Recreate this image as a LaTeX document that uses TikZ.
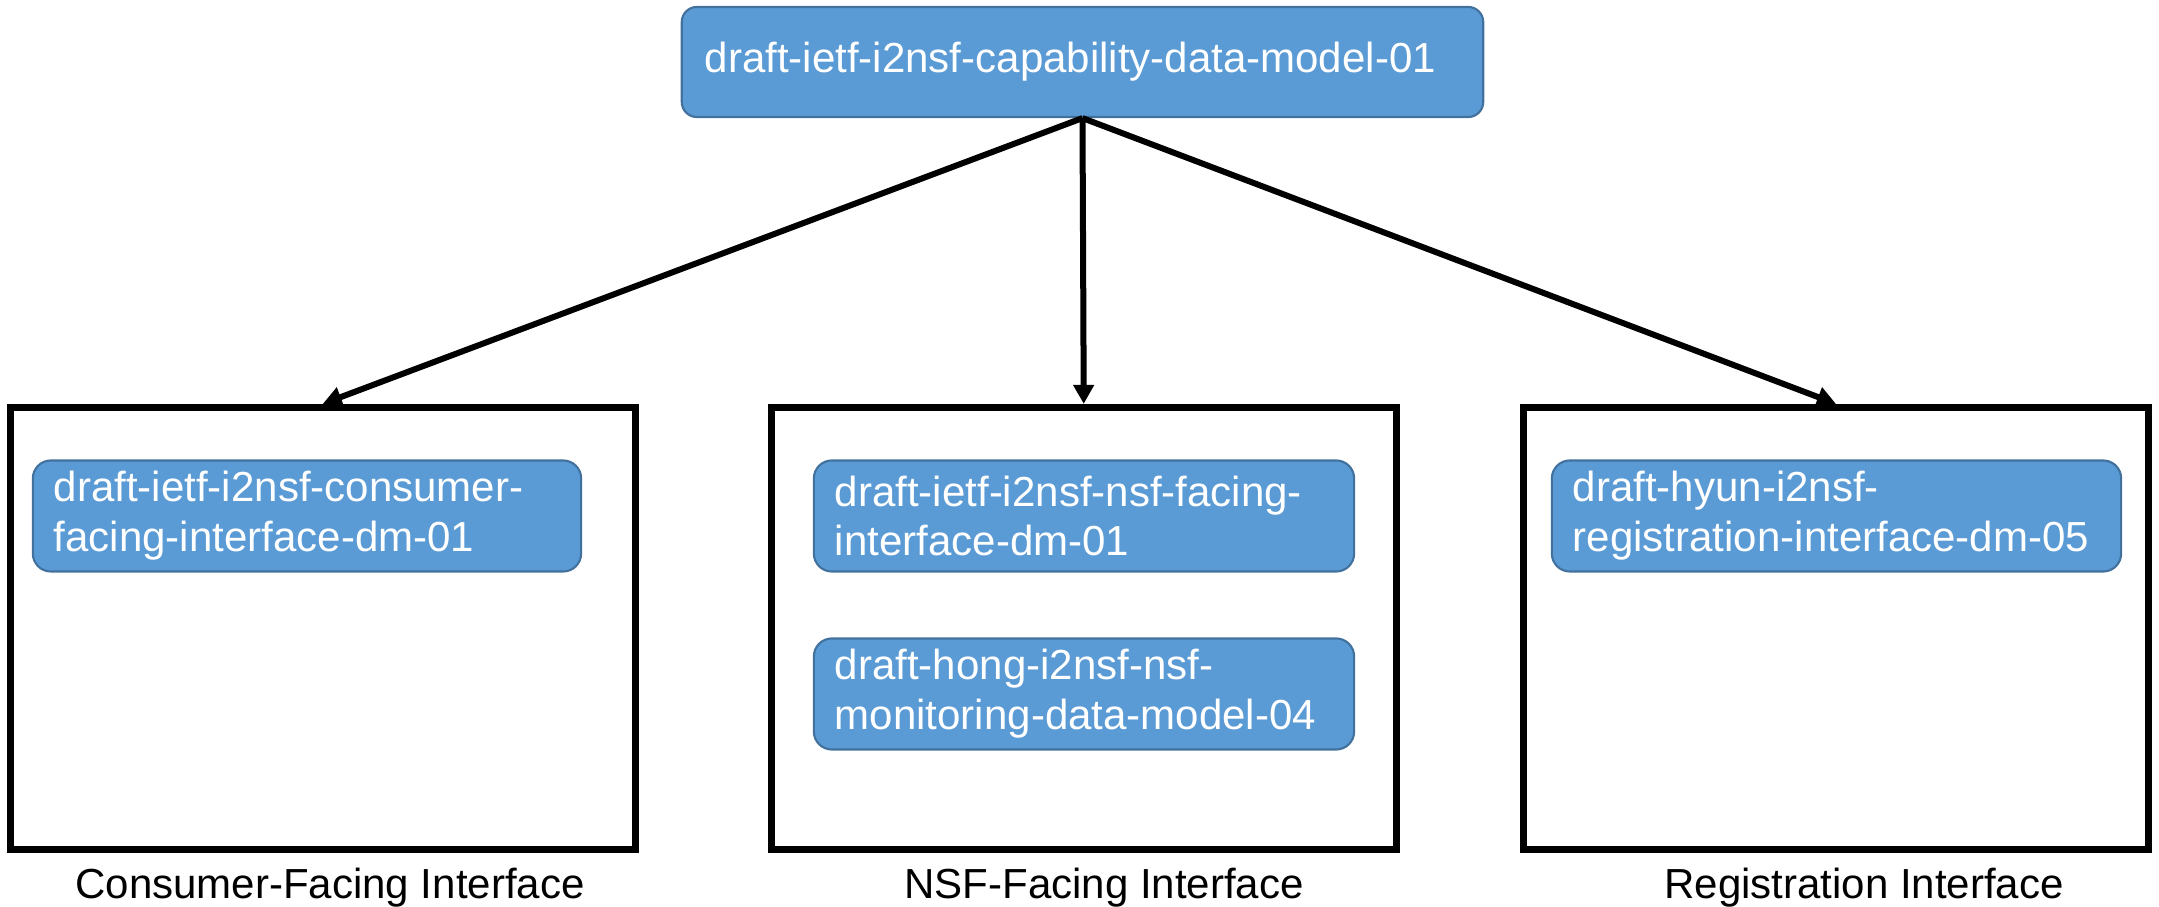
\documentclass[tikz,border=0pt]{standalone}
\usepackage{fontspec}
\setmainfont{Liberation Sans}
\usetikzlibrary{arrows.meta}
\definecolor{nodeblue}{HTML}{5B9BD5}
\definecolor{nodeedge}{HTML}{41719C}
\hyphenpenalty=10000
\exhyphenpenalty=10000
\begin{document}
\begin{tikzpicture}[x=0.01cm,y=-0.01cm,
  draftbox/.style={draw=nodeedge, line width=0.6pt, fill=nodeblue, rounded corners=0.18cm,
    text=white, font=\fontsize{11.95pt}{14.2pt}\selectfont,
    align=left, inner xsep=0.21cm, inner ysep=0pt, minimum height=1.11cm},
  groupbox/.style={draw=black, line width=0.07cm, minimum width=6.245cm, minimum height=4.415cm, inner sep=0pt},
  grouplabel/.style={font=\fontsize{11.95pt}{14.2pt}\selectfont, inner sep=0pt, anchor=base},
  link/.style={line width=0.06cm, -{Triangle[length=0.19cm,width=0.2cm]}}
]
\useasboundingbox (0,0) rectangle (2159,907);

% group boxes
\node[groupbox] (cfi) at (322.75,628.25) {};
\node[groupbox] (nfi) at (1083.75,628.25) {};
\node[groupbox] (rgi) at (1836,628.25) {};

% top node
\node[draftbox, text width=7.55cm, inner xsep=0.23cm, minimum height=1.10cm, rounded corners=0.15cm] (cap) at (1082.5,62)
  {draft-ietf-i2nsf-capability-data-model-01};

% inner nodes
\node[draftbox, text width=5.06cm] (cons) at (307,516)
  {draft-ietf-i2nsf-consumer-\\facing-interface-dm-01};
\node[draftbox, text width=4.98cm] (nsff) at (1084,516)
  {draft-ietf-i2nsf-nsf-facing-\\interface-dm-01};
\node[draftbox, text width=4.98cm] (mon) at (1084,694)
  {draft-hong-i2nsf-nsf-\\monitoring-data-model-04};
\node[draftbox, text width=5.27cm] (reg) at (1836.5,516)
  {draft-hyun-i2nsf-\\registration-interface-dm-05};

% labels
\node[grouplabel] (cfilabel) at (330,899) {Consumer-Facing Interface};
\node[grouplabel] (nfilabel) at (1104,899) {NSF-Facing Interface};
\node[grouplabel] (rgilabel) at (1864,899) {Registration Interface};

% connectors
\draw[link] (cap.south) -- (cfi.north);
\draw[link] (cap.south) -- (nfi.north);
\draw[link] (cap.south) -- (rgi.north);
\end{tikzpicture}
\end{document}
